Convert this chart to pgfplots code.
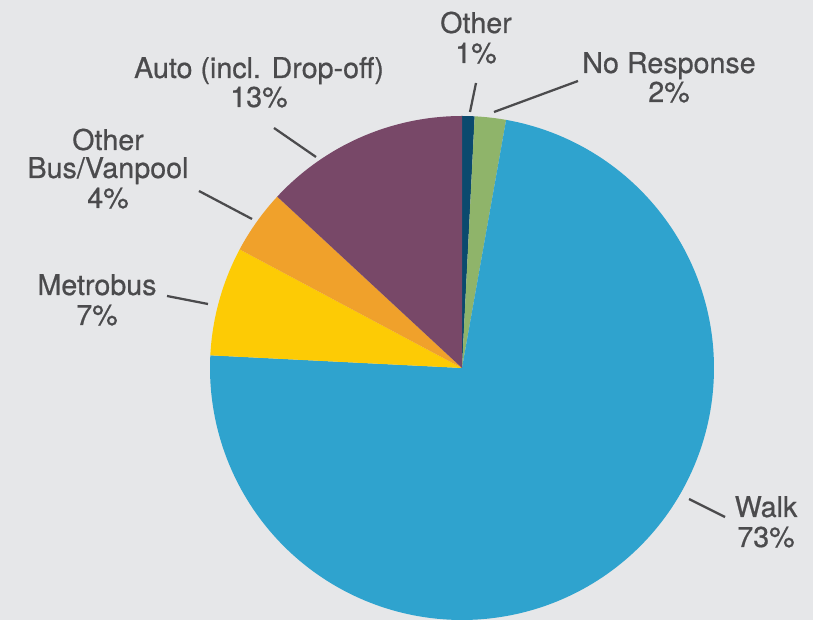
\documentclass[border=0pt]{standalone}
\usepackage{pgfplots}
\pgfplotsset{compat=1.18}
\usepackage{fontspec}
\setmainfont{TeX Gyre Heros}
\newfontfamily\lblfont[UprightFeatures={FakeBold=0.6}]{TeX Gyre Heros}
\definecolor{bg}{HTML}{E6E7E9}
\definecolor{txt}{HTML}{4B4B4D}
\definecolor{cOther}{HTML}{0B4A6E}
\definecolor{cNR}{HTML}{8FB46A}
\definecolor{cWalk}{HTML}{2FA3CE}
\definecolor{cMetro}{HTML}{FDCB05}
\definecolor{cBus}{HTML}{F0A12B}
\definecolor{cAuto}{HTML}{784868}
\tikzset{lbl/.style={anchor=base, font=\lblfont\fontsize{21.5}{23}\selectfont, text=txt, inner sep=0pt}}
\begin{document}
\begin{tikzpicture}
\begin{axis}[x=0.75pt, y=0.75pt, xmin=0, xmax=813, ymin=0, ymax=620,
  hide axis, clip=false, scale only axis]
\fill[bg] (axis cs:0,0) rectangle (axis cs:813,620);
% shares (%): Other 0.8, No Response 2.0, Walk 73.0, Metrobus 7.0, Other Bus/Vanpool 4.1, Auto 13.1
% slices start at 90 deg and run clockwise, 3.6 deg per percent
\addplot[fill=cOther, draw=none, domain=87.12:90, samples=10] ({462+252*cos(x)},{252+252*sin(x)}) -- (axis cs:462,252) -- cycle;
\addplot[fill=cNR, draw=none, domain=79.92:87.12, samples=15] ({462+252*cos(x)},{252+252*sin(x)}) -- (axis cs:462,252) -- cycle;
\addplot[fill=cWalk, draw=none, domain=-182.88:79.92, samples=200] ({462+252*cos(x)},{252+252*sin(x)}) -- (axis cs:462,252) -- cycle;
\addplot[fill=cMetro, draw=none, domain=-208.08:-182.88, samples=25] ({462+252*cos(x)},{252+252*sin(x)}) -- (axis cs:462,252) -- cycle;
\addplot[fill=cBus, draw=none, domain=-222.84:-208.08, samples=15] ({462+252*cos(x)},{252+252*sin(x)}) -- (axis cs:462,252) -- cycle;
\addplot[fill=cAuto, draw=none, domain=-270:-222.84, samples=40] ({462+252*cos(x)},{252+252*sin(x)}) -- (axis cs:462,252) -- cycle;
% leader lines
\draw[txt, line width=1.7pt] (axis cs:476,537) -- (axis cs:470,508);
\draw[txt, line width=1.7pt] (axis cs:578,539) -- (axis cs:494,508);
\draw[txt, line width=1.7pt] (axis cs:274,492) -- (axis cs:316,463);
\draw[txt, line width=1.7pt] (axis cs:199,429) -- (axis cs:252,401);
\draw[txt, line width=1.7pt] (axis cs:167,324) -- (axis cs:208,316);
\draw[txt, line width=1.7pt] (axis cs:689,121) -- (axis cs:725,103);
% labels
\node[lbl] at (axis cs:476,587) {Other};
\node[lbl] at (axis cs:476,557) {1\%};
\node[lbl] at (axis cs:669,547) {No Response};
\node[lbl] at (axis cs:669,518) {2\%};
\node[lbl] at (axis cs:259,542) {Auto (incl. Drop-off)};
\node[lbl] at (axis cs:259,513) {13\%};
\node[lbl] at (axis cs:108,470) {Other};
\node[lbl] at (axis cs:108,442) {Bus/Vanpool};
\node[lbl] at (axis cs:108,412) {4\%};
\node[lbl] at (axis cs:97,325) {Metrobus};
\node[lbl] at (axis cs:97,295) {7\%};
\node[lbl] at (axis cs:766,103) {Walk};
\node[lbl] at (axis cs:766,73) {73\%};
\end{axis}
\end{tikzpicture}
\end{document}
